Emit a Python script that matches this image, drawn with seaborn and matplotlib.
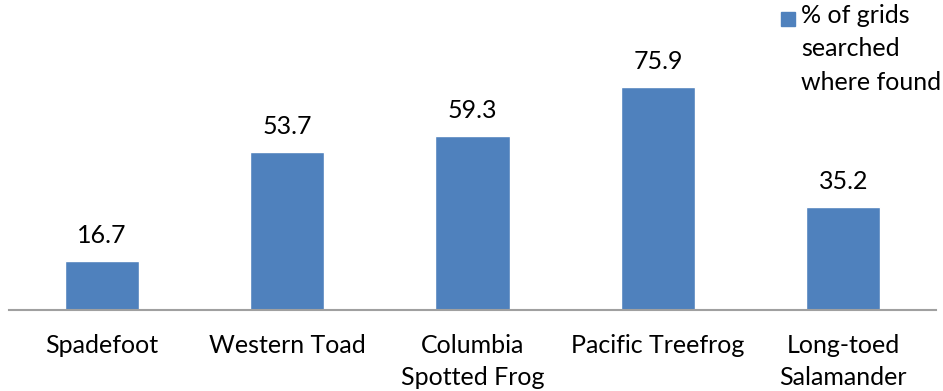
import matplotlib
matplotlib.use("Agg")
import matplotlib.pyplot as plt
import seaborn as sns
import pandas as pd

categories = ["Spadefoot", "Western Toad", "Columbia\nSpotted Frog", "Pacific Treefrog", "Long-toed\nSalamander"]
values = [16.7, 53.7, 59.3, 75.9, 35.2]
series_name = "% of grids\nsearched\nwhere found"

sns.set_theme(style="white")
plt.rcParams['font.family'] = ['Lato', 'DejaVu Sans']

df = pd.DataFrame({"cat": categories, "val": values, "series": series_name})

W, H = 943, 391
fig = plt.figure(figsize=(W / 100, H / 100), dpi=100)
left, right = 9 / W, 936 / W
bottom = (H - 310) / H
top_px = 310 - 80 * 2.94
ax = fig.add_axes([left, bottom, right - left, (310 - top_px) / H])

sns.barplot(data=df, x="cat", y="val", hue="series", palette=["#4F81BD"],
            width=0.4, ax=ax, legend=False, saturation=1)
ax.set_ylim(0, 80)
ax.set_xlim(-0.5, len(categories) - 0.5)
ax.set_xlabel("")
ax.set_ylabel("")
ax.set_yticks([])
for s in ["top", "right", "left"]:
    ax.spines[s].set_visible(False)
ax.spines["bottom"].set_color("#A0A0A0")
ax.spines["bottom"].set_linewidth(1.5)
ax.tick_params(axis="x", length=0, pad=17, labelsize=18, colors="black")
for lbl in ax.get_xticklabels():
    lbl.set_linespacing(1.5)

for c in ax.containers:
    ax.bar_label(c, labels=[f"{v:.1f}" for v in c.datavalues], padding=10, fontsize=18, color="black")

# legend
fig.patches.append(plt.Rectangle((781 / W, 1 - 26 / H), 14 / W, 14 / H,
                                 transform=fig.transFigure, color="#4F81BD", figure=fig))
fig.text(801 / W, 1 - 4 / H, series_name, ha="left", va="top", fontsize=18,
         linespacing=1.55, color="black")

fig.savefig("out.png", dpi=100)
